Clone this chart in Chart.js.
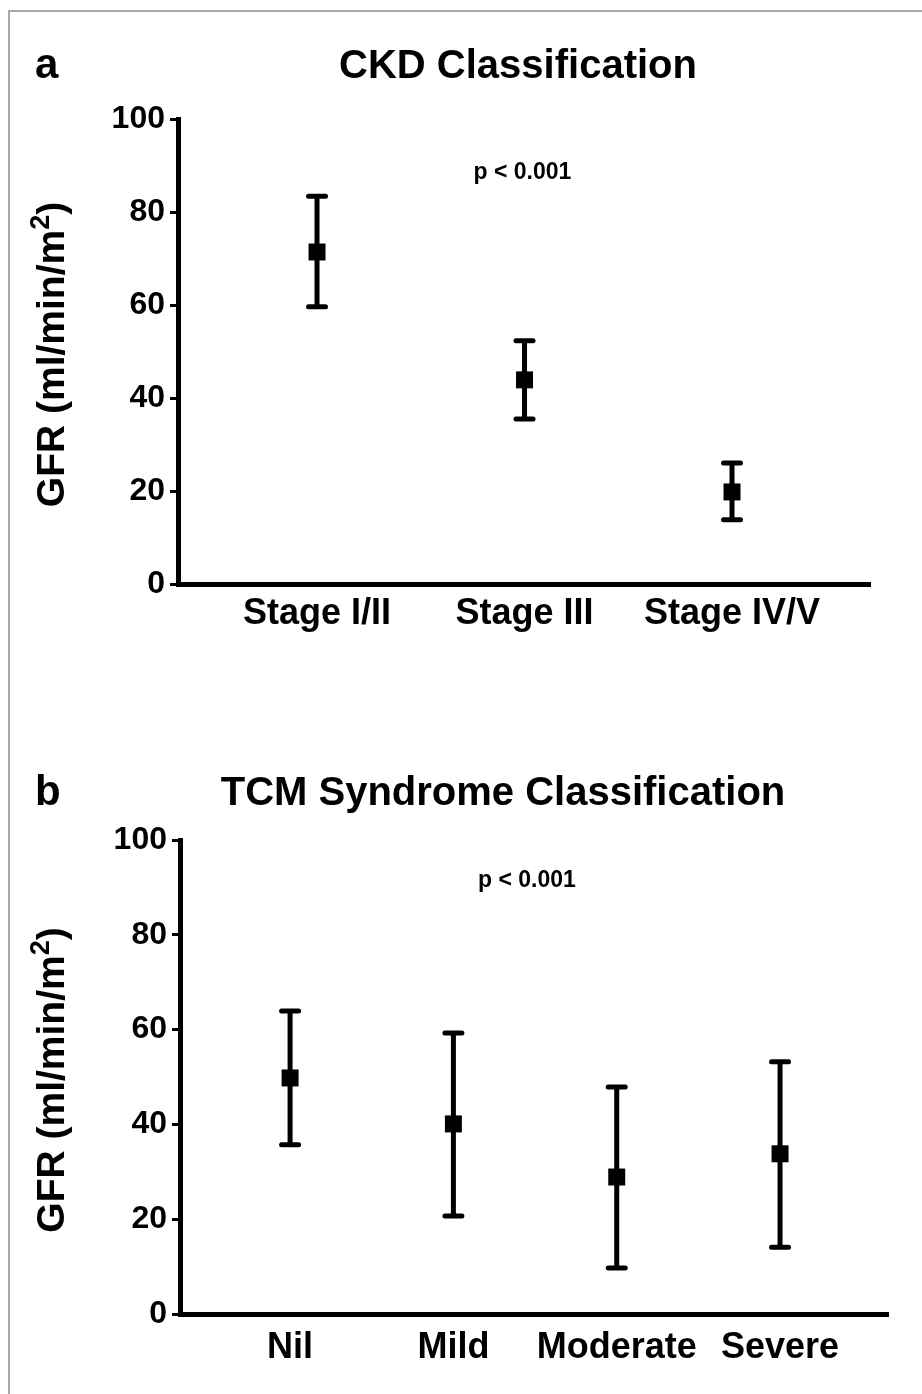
<!doctype html>
<html lang="en">
  <head>
    <meta charset="utf-8">
    <style>
      * {
        margin: 0;
        padding: 0;
      }
      body {
        background: #fff;
        width: 922px;
        height: 1394px;
        position: relative;
        overflow: hidden;
      }
      .frame {
        position: absolute;
        left: 8px;
        top: 10px;
        width: 930px;
        height: 1400px;
        border-top: 2px solid #aaa;
        border-left: 2px solid #aaa;
      }
      .panel {
        position: absolute;
        left: 0;
        width: 922px;
      }
      #panelA { top: 0; height: 700px; }
      #panelB { top: 700px; height: 694px; }
    </style>
  </head>
  <body>
    <div class="frame"></div>
    <div class="panel" id="panelA"><canvas id="chartA" width="922" height="700"></canvas></div>
    <div class="panel" id="panelB"><canvas id="chartB" width="922" height="694"></canvas></div>

    <script src="https://cdn.jsdelivr.net/npm/chart.js/dist/chart.umd.min.js"></script>
    <script>
    // data (mean with upper / lower whisker ends)
    const ckdLabels = ['Stage I/II', 'Stage III', 'Stage IV/V'];
    const ckdMean = [71.4, 43.9, 19.8];
    const ckdUpper = [83.4, 52.3, 26.0];
    const ckdLower = [59.6, 35.5, 13.8];

    const tcmLabels = ['Nil', 'Mild', 'Moderate', 'Severe'];
    const tcmMean = [49.8, 40.1, 28.9, 33.8];
    const tcmUpper = [63.9, 59.3, 47.9, 53.2];
    const tcmLower = [35.7, 20.7, 9.7, 14.1];

    const yMin = 0;
    const yMax = 100;
    const yStep = 20;
    const pText = 'p < 0.001';

    const FONT = '"Liberation Sans", Arial, Helvetica, sans-serif';

    // whiskers, drawn under the square markers
    const errorBars = {
      id: 'errorBars',
      beforeDatasetsDraw(chart, args, opts) {
        const { ctx, scales: { x, y } } = chart;
        ctx.save();
        ctx.strokeStyle = '#000';
        ctx.lineWidth = 5;
        ctx.lineCap = 'round';
        opts.lower.forEach((lo, i) => {
          const px = x.getPixelForValue(i + 1);
          const top = y.getPixelForValue(opts.upper[i]);
          const bot = y.getPixelForValue(lo);
          ctx.beginPath();
          ctx.moveTo(px, top);
          ctx.lineTo(px, bot);
          ctx.moveTo(px - 8.5, top);
          ctx.lineTo(px + 8.5, top);
          ctx.moveTo(px - 8.5, bot);
          ctx.lineTo(px + 8.5, bot);
          ctx.stroke();
        });
        ctx.restore();
      }
    };

    // panel letter, title, p value and the y axis title
    const decorations = {
      id: 'decorations',
      afterDraw(chart, args, o) {
        const { ctx, chartArea, scales: { x, y } } = chart;
        ctx.save();
        ctx.fillStyle = '#000';

        ctx.textBaseline = 'alphabetic';
        ctx.textAlign = 'left';
        ctx.font = `bold 42px ${FONT}`;
        ctx.fillText(o.letter, 35, o.titleBaseline);

        ctx.textAlign = 'center';
        ctx.font = `bold 40px ${FONT}`;
        ctx.fillText(o.title, o.titleCenter, o.titleBaseline);

        ctx.textBaseline = 'middle';
        ctx.font = `bold 23px ${FONT}`;
        ctx.fillText(pText, x.getPixelForValue(o.pAt[0]), y.getPixelForValue(o.pAt[1]));

        // GFR (ml/min/m²) with a real superscript
        const cy = (chartArea.top + chartArea.bottom) / 2 + 3;
        ctx.translate(64, cy);
        ctx.rotate(-Math.PI / 2);
        ctx.textAlign = 'left';
        ctx.textBaseline = 'alphabetic';
        const main = 'GFR (ml/min/m';
        ctx.font = `bold 39px ${FONT}`;
        const w1 = ctx.measureText(main).width;
        const w3 = ctx.measureText(')').width;
        ctx.font = `bold 27px ${FONT}`;
        const w2 = ctx.measureText('2').width;
        let sx = -(w1 + w2 + w3) / 2;
        ctx.font = `bold 39px ${FONT}`;
        ctx.fillText(main, sx, 0);
        sx += w1;
        ctx.font = `bold 27px ${FONT}`;
        ctx.fillText('2', sx, -15);
        sx += w2;
        ctx.font = `bold 39px ${FONT}`;
        ctx.fillText(')', sx, 0);
        ctx.restore();
      }
    };

    function makeChart(id, labels, mean, upper, lower, o) {
      return new Chart(document.getElementById(id), {
        type: 'scatter',
        data: {
          datasets: [{
            data: mean.map((v, i) => ({ x: i + 1, y: v })),
            pointStyle: 'rect',
            pointRadius: 12,
            pointHoverRadius: 12,
            backgroundColor: '#000',
            borderColor: '#000',
            borderWidth: 0
          }]
        },
        options: {
          responsive: false,
          animation: false,
          events: [],
          layout: {
            padding: { left: 0, top: o.top, right: o.right, bottom: o.bottom }
          },
          scales: {
            x: {
              type: 'linear',
              min: o.xMin,
              max: o.xMax,
              afterBuildTicks: s => { s.ticks = labels.map((l, i) => ({ value: i + 1 })); },
              afterFit: s => { s.height = 80; },
              grid: { drawOnChartArea: false, drawTicks: false },
              border: { display: true, width: 5, color: '#000' },
              ticks: {
                callback: v => labels[v - 1],
                color: '#000',
                font: { family: FONT, size: 36, weight: 'bold' },
                padding: o.labelPad,
                maxRotation: 0,
                autoSkip: false
              }
            },
            y: {
              min: yMin,
              max: yMax,
              afterFit: s => { s.width = o.yWidth; },
              grid: { drawOnChartArea: false, drawTicks: true, tickLength: 8, tickWidth: 3, tickColor: '#000' },
              border: { display: true, width: 5, color: '#000' },
              ticks: {
                stepSize: yStep,
                color: '#000',
                font: { family: FONT, size: 32, weight: 'bold' },
                padding: 5
              }
            }
          },
          plugins: {
            legend: { display: false },
            tooltip: { enabled: false },
            errorBars: { upper, lower },
            decorations: {
              letter: o.letter,
              title: o.title,
              titleCenter: o.titleCenter,
              titleBaseline: o.titleBaseline,
              pAt: o.pAt
            }
          }
        },
        plugins: [errorBars, decorations]
      });
    }

    const chartA = makeChart('chartA', ckdLabels, ckdMean, ckdUpper, ckdLower, {
      top: 119, right: 52, bottom: 36, yWidth: 178,
      xMin: 0.33, xMax: 3.665, labelPad: 8,
      letter: 'a', title: 'CKD Classification', titleCenter: 518, titleBaseline: 78,
      pAt: [1.99, 88.4]
    });

    const chartB = makeChart('chartB', tcmLabels, tcmMean, tcmUpper, tcmLower, {
      top: 140, right: 34, bottom: 0, yWidth: 180,
      xMin: 0.326, xMax: 4.661, labelPad: 12,
      letter: 'b', title: 'TCM Syndrome Classification', titleCenter: 503, titleBaseline: 105,
      pAt: [2.45, 91.5]
    });
    </script>
  </body>
</html>
